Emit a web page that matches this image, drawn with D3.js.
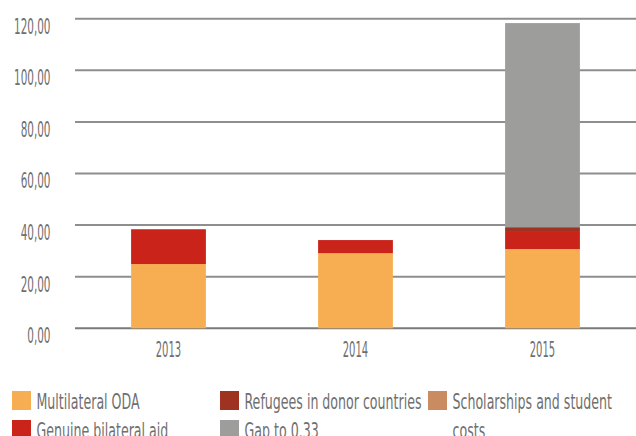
<!DOCTYPE html>
<html>
<head>
<meta charset="utf-8">
<script src="https://cdn.jsdelivr.net/npm/d3@7/dist/d3.min.js"></script>
<style>
  html, body { margin: 0; padding: 0; background: #fff; }
  svg text { font-family: "Liberation Sans Narrow", "DejaVu Sans Condensed", "Roboto", sans-serif; fill: #6f6f6f; }
</style>
</head>
<body>
<svg id="chart" width="636" height="436"></svg>
<script>
// ---- data ----
const categories = ["2013", "2014", "2015"];
const multilateralODA = [24.9, 29.1, 30.7];
const genuineBilateralAid = [13.5, 5.1, 7.0];
const refugeesInDonorCountries = [0, 0, 1.5];
const scholarshipsAndStudentCosts = [0, 0, 0];
const gapTo033 = [0, 0, 79.1];
const yTicks = [0, 20, 40, 60, 80, 100, 120];

const seriesNames = ["Multilateral ODA", "Genuine bilateral aid", "Refugees in donor countries", "Scholarships and student costs", "Gap to 0.33"];
const seriesValues = [multilateralODA, genuineBilateralAid, refugeesInDonorCountries, scholarshipsAndStudentCosts, gapTo033];
const seriesColors = ["#F7AE52", "#C9231A", "#9E3322", "#CB8B60", "#9D9D9B"];

// ---- layout ----
const svg = d3.select("#chart");
const plotLeft = 75, plotRight = 636, plotTop = 18.7, plotBottom = 328.3;
const fontSize = 21;

const x = d3.scaleBand().domain(categories).range([plotLeft, plotRight])
  .paddingInner(0.6).paddingOuter(0.3);
const y = d3.scaleLinear().domain([0, 120]).range([plotBottom, plotTop]);

// table for stack
const table = categories.map((c, i) => {
  const row = { category: c };
  seriesNames.forEach((n, j) => row[n] = seriesValues[j][i]);
  return row;
});
const stacked = d3.stack().keys(seriesNames)(table);

// gridlines
const grid = svg.append("g");
grid.selectAll("line").data(yTicks).join("line")
  .attr("x1", plotLeft).attr("x2", plotRight)
  .attr("y1", d => y(d)).attr("y2", d => y(d))
  .attr("stroke", d => d === 0 ? "#7a7a7a" : "#8e8e8e")
  .attr("stroke-width", 2);

// bars
svg.append("g").selectAll("g").data(stacked).join("g")
  .attr("fill", (d, i) => seriesColors[i])
  .selectAll("rect").data(d => d).join("rect")
  .attr("x", d => x(d.data.category))
  .attr("width", x.bandwidth())
  .attr("y", d => y(d[1]))
  .attr("height", d => Math.max(0, y(d[0]) - y(d[1])));

// helper: condense a group of texts so that a reference string gets a given width
function condense(sel, refText, refWidth) {
  const probe = svg.append("text").attr("font-size", fontSize).text(refText);
  const f = refWidth / probe.node().getComputedTextLength();
  probe.remove();
  sel.each(function() {
    const w = this.getComputedTextLength();
    d3.select(this).attr("textLength", w * f).attr("lengthAdjust", "spacingAndGlyphs");
  });
}

// y axis labels
const fmt = v => d3.format(".2f")(v).replace(".", ",");
const yAxis = d3.axisLeft(y).tickValues(yTicks).tickFormat(fmt).tickSize(0).tickPadding(0);
const yg = svg.append("g").attr("transform", `translate(${plotLeft - 24.5},0)`).call(yAxis);
yg.select(".domain").remove();
yg.attr("font-family", null).attr("font-size", null);
yg.selectAll("text").attr("font-size", fontSize).attr("dy", 14.3).attr("fill", "#6f6f6f");
condense(yg.selectAll("text"), "120,00", 36.5);

// x axis labels
const xAxis = d3.axisBottom(x).tickSize(0).tickPadding(0);
const xg = svg.append("g").attr("transform", `translate(0,${plotBottom})`).call(xAxis);
xg.select(".domain").remove();
xg.attr("font-family", null).attr("font-size", null);
xg.selectAll("text").attr("font-size", fontSize).attr("dy", null).attr("y", 28.5).attr("fill", "#6f6f6f");
condense(xg.selectAll("text"), "2015", 25.5);

// legend
const legendItems = [
  { i: 0, col: 0, row: 0, lines: ["Multilateral ODA"] },
  { i: 1, col: 0, row: 1, lines: ["Genuine bilateral aid"] },
  { i: 2, col: 1, row: 0, lines: ["Refugees in donor countries"] },
  { i: 4, col: 1, row: 1, lines: ["Gap to 0.33"] },
  { i: 3, col: 2, row: 0, lines: ["Scholarships and student", "costs"] }
];
const lg = svg.append("g");
const items = lg.selectAll("g").data(legendItems).join("g")
  .attr("transform", d => `translate(${12 + d.col * 208},${391 + d.row * 29})`);
items.append("rect").attr("width", 19).attr("height", 19).attr("fill", d => seriesColors[d.i]);
items.each(function(d) {
  const g = d3.select(this);
  d.lines.forEach((t, k) => {
    g.append("text").attr("x", 24.5).attr("y", 17.5 + k * 29).attr("font-size", fontSize)
      .attr("fill", "#737373").text(t);
  });
});
condense(lg.selectAll("text"), "Refugees in donor countries", 177);
</script>
</body>
</html>
